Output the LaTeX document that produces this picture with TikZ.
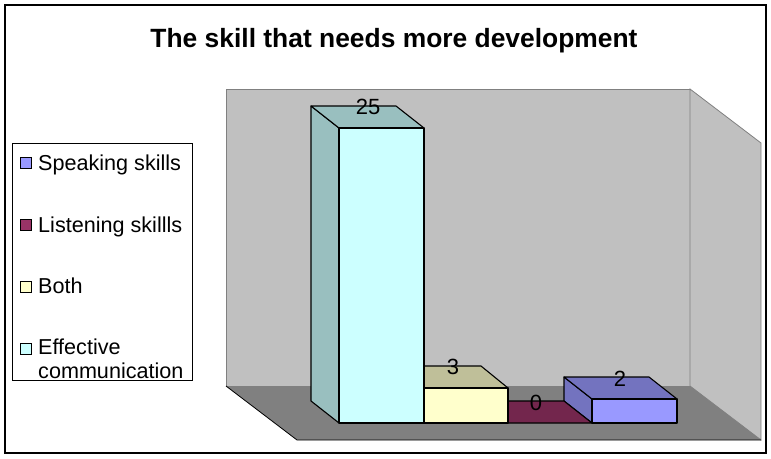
\documentclass[tikz,border=0pt]{standalone}
\usepackage{fontspec}
\setmainfont{Liberation Sans}
\usepackage{xcolor}
\usetikzlibrary{positioning}
\definecolor{wallgray}{HTML}{C0C0C0}
\definecolor{floorgray}{HTML}{808080}
\definecolor{speakfront}{HTML}{9999FF}
\definecolor{speakside}{HTML}{7373BF}
\definecolor{listenfront}{HTML}{993366}
\definecolor{listentop}{HTML}{73264D}
\definecolor{bothfront}{HTML}{FFFFCC}
\definecolor{bothside}{HTML}{BFBF99}
\definecolor{efffront}{HTML}{CCFFFF}
\definecolor{effside}{HTML}{99BFBF}

\begin{document}
\begin{tikzpicture}[x=1pt, y=-1pt]
\tikzset{wall/.style={fill=wallgray, draw=floorgray, line width=0.8pt},
         barface/.style={draw=black, line width=1.1pt, line join=round},
         vallabel/.style={font=\fontsize{22}{24}\selectfont, inner sep=0pt},
         legsq/.style={draw=black, line width=0.6pt, minimum size=11.5pt, inner sep=0pt},
         legtext/.style={font=\fontsize{21.6}{23.5}\selectfont, inner sep=0pt, align=left}}
    \useasboundingbox (0,0) rectangle (771,458);
    \draw[line width=1.5pt] (5,5) rectangle (766,453);

    \node[font=\bfseries\fontsize{26.4}{30}\selectfont, anchor=base] (title) at (394,47) {The skill that needs more development};

    % walls and floor
    \coordinate (BWtl) at (226,89);
    \coordinate (BWtr) at (690,89);
    \coordinate (BWbl) at (226,386);
    \coordinate (BWbr) at (690,386);
    \coordinate (SWt) at (761,143);
    \coordinate (FLl) at (297,440);
    \coordinate (FLr) at (761,440);

    \draw[wall] (BWtl) rectangle (BWbr);
    \draw[wall] (BWtr) -- (SWt) -- (FLr) -- (BWbr) -- cycle;
    \fill[floorgray] (BWbl) -- (BWbr) -- (FLr) -- (FLl) -- cycle;
    \draw[line width=0.8pt] (BWbl) -- (FLl) -- (FLr);

    % Speaking skills
    \filldraw[barface, fill=speakside] (592,423) -- (564,401) -- (564,377) -- (592,399) -- cycle;
    \filldraw[barface, fill=speakside] (592,399) -- (564,377) -- (649,377) -- (677,399) -- cycle;
    \filldraw[barface, fill=speakfront] (592,399) rectangle (677,423);
    % Listening skillls
    \filldraw[barface, fill=listentop] (508,423) -- (480,401) -- (564,401) -- (592,423) -- cycle;
    % Both
    \filldraw[barface, fill=bothside] (424,423) -- (396,401) -- (396,366) -- (424,388) -- cycle;
    \filldraw[barface, fill=bothside] (424,388) -- (396,366) -- (481,366) -- (508,388) -- cycle;
    \filldraw[barface, fill=bothfront] (424,388) rectangle (508,423);
    % Effective communication
    \filldraw[barface, fill=effside] (339,423) -- (311,401) -- (311,106) -- (339,128) -- cycle;
    \filldraw[barface, fill=effside] (339,128) -- (311,106) -- (396,106) -- (424,128) -- cycle;
    \filldraw[barface, fill=efffront] (339,128) rectangle (424,423);

    \node[vallabel] (valEff) at (368,107) {25};
    \node[vallabel] (valBoth) at (453,367) {3};
    \node[vallabel] (valListen) at (536,403) {0};
    \node[vallabel] (valSpeak) at (620,379) {2};

    % legend
    \draw[line width=0.6pt] (12,143) rectangle (192,380);
    \node[legsq, fill=speakfront] (sqSpeak) at (26,163) {};
    \node[legsq, fill=listenfront] (sqListen) at (26,225) {};
    \node[legsq, fill=bothfront] (sqBoth) at (26,287) {};
    \node[legsq, fill=efffront] (sqEff) at (26,349) {};
    \node[legtext, anchor=base west] (txtSpeak) at (38,170) {Speaking skills};
    \node[legtext, anchor=base west] (txtListen) at (38,232) {Listening skillls};
    \node[legtext, anchor=base west] (txtBoth) at (38,293) {Both};
    \node[legtext, anchor=base west] (txtEff) at (38,378) {Effective\\communication};
\end{tikzpicture}
\end{document}
